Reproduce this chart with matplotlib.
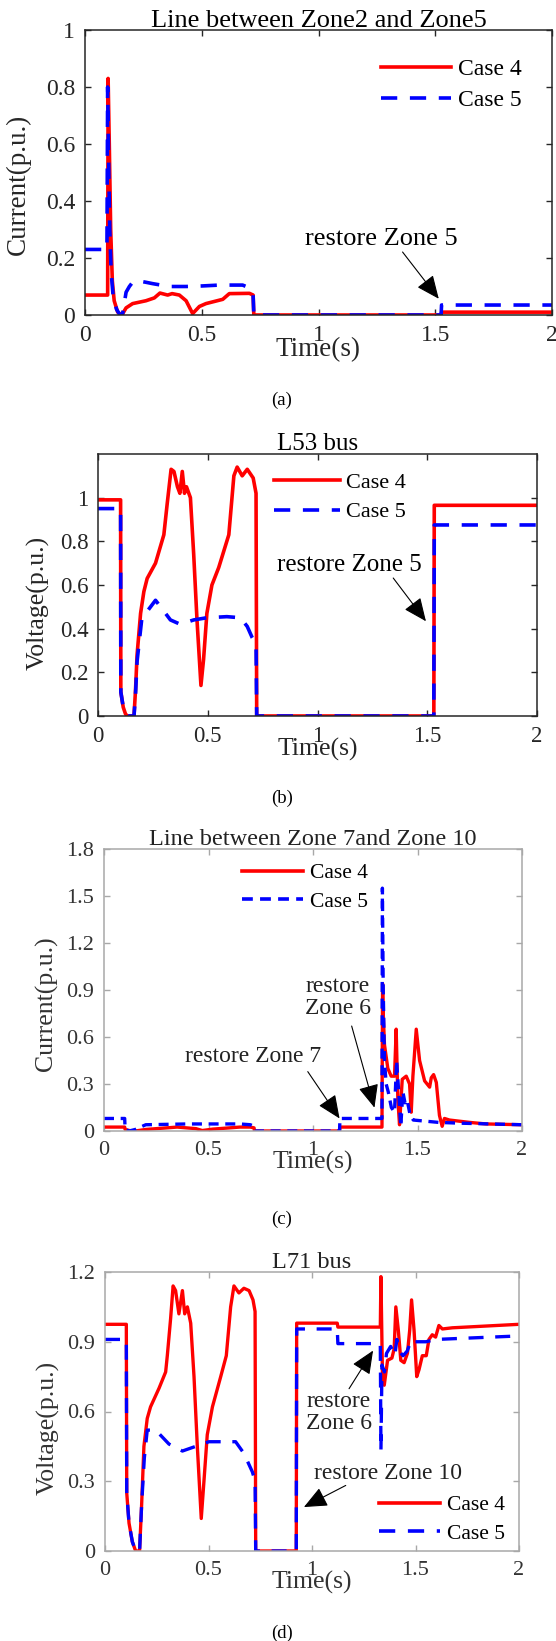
import matplotlib
matplotlib.use("Agg")
import matplotlib.pyplot as plt
from matplotlib.lines import Line2D

plt.rcParams['font.family'] = ['Liberation Serif', 'DejaVu Serif']

# ---------------- data ----------------
# (a) line between Zone2 and Zone5, current
t_a4 = [0, 0.097, 0.099, 0.104, 0.110, 0.117, 0.125, 0.140, 0.158, 0.176, 0.204, 0.261, 0.297,
        0.321, 0.354, 0.373, 0.404, 0.433, 0.461, 0.490, 0.518, 0.590, 0.618, 0.704, 0.720,
        0.723, 1.525, 1.527, 2.0]
i_a4 = [0.07, 0.07, 0.83, 0.60, 0.30, 0.12, 0.05, 0.01, 0.0, 0.025, 0.04, 0.05, 0.06,
        0.077, 0.07, 0.075, 0.07, 0.05, 0.005, 0.03, 0.04, 0.055, 0.075, 0.076, 0.07,
        0.0, 0.0, 0.01, 0.01]
t_a5 = [0, 0.094, 0.097, 0.101, 0.106, 0.112, 0.120, 0.135, 0.150, 0.160, 0.168, 0.176, 0.190,
        0.204, 0.226, 0.260, 0.290, 0.361, 0.433, 0.504, 0.575, 0.675, 0.705, 0.720, 0.723,
        1.525, 1.527, 2.0]
i_a5 = [0.23, 0.23, 0.80, 0.55, 0.30, 0.15, 0.07, 0.02, 0.0, 0.0, 0.04, 0.08, 0.10,
        0.115, 0.12, 0.115, 0.11, 0.10, 0.10, 0.102, 0.105, 0.105, 0.095, 0.07, 0.0,
        0.0, 0.035, 0.035]

# (b) L53 bus voltage
t_b4 = [0, 0.103, 0.104, 0.115, 0.125, 0.133, 0.164, 0.171, 0.178, 0.194, 0.209, 0.224, 0.262,
        0.300, 0.315, 0.333, 0.346, 0.362, 0.373, 0.384, 0.394, 0.403, 0.421, 0.436, 0.451,
        0.469, 0.481, 0.496, 0.519, 0.550, 0.596, 0.619, 0.634, 0.657, 0.680, 0.707, 0.720,
        0.723, 1.530, 1.532, 2.0]
v_b4 = [0.99, 0.99, 0.11, 0.04, 0.01, 0.0, 0.0, 0.12, 0.28, 0.47, 0.57, 0.63, 0.70,
        0.83, 0.97, 1.13, 1.12, 1.05, 1.02, 1.12, 1.02, 1.05, 1.0, 0.74, 0.44,
        0.14, 0.26, 0.47, 0.60, 0.68, 0.83, 1.10, 1.14, 1.10, 1.13, 1.09, 1.02,
        0.0, 0.0, 0.965, 0.965]
t_b5 = [0, 0.103, 0.104, 0.115, 0.125, 0.138, 0.164, 0.171, 0.178, 0.200, 0.217, 0.262, 0.285,
        0.330, 0.375, 0.436, 0.496, 0.587, 0.649, 0.680, 0.702, 0.720, 0.723, 1.530, 1.532, 2.0]
v_b5 = [0.95, 0.95, 0.11, 0.04, 0.01, 0.0, 0.0, 0.10, 0.25, 0.45, 0.47, 0.53, 0.50,
        0.44, 0.42, 0.44, 0.45, 0.455, 0.45, 0.41, 0.36, 0.33, 0.0, 0.0, 0.875, 0.875]

# (c) line between Zone 7 and Zone 10, current
t_c4 = [0, 0.099, 0.101, 0.13, 0.15, 0.20, 0.35, 0.44, 0.47, 0.52, 0.65, 0.70, 0.718, 0.720,
        1.127, 1.129, 1.330, 1.333, 1.336, 1.342, 1.358, 1.374, 1.390, 1.398, 1.406, 1.414,
        1.427, 1.446, 1.462, 1.470, 1.478, 1.494, 1.510, 1.534, 1.558, 1.566, 1.577, 1.590,
        1.605, 1.618, 1.629, 1.653, 1.749, 1.828, 2.0]
i_c4 = [0.025, 0.025, 0.01, 0.0, 0.0, 0.01, 0.025, 0.015, 0.003, 0.012, 0.025, 0.025, 0.02, 0.0,
        0.0, 0.025, 0.025, 0.94, 0.75, 0.55, 0.40, 0.35, 0.35, 0.65, 0.20, 0.04,
        0.33, 0.35, 0.30, 0.12, 0.35, 0.65, 0.45, 0.32, 0.28, 0.34, 0.36, 0.31,
        0.10, 0.03, 0.08, 0.07, 0.055, 0.045, 0.04]
t_c5 = [0, 0.099, 0.101, 0.12, 0.15, 0.20, 0.40, 0.65, 0.70, 0.718, 0.720, 1.127, 1.129, 1.330,
        1.332, 1.336, 1.342, 1.350, 1.360, 1.375, 1.390, 1.400, 1.410, 1.420, 1.430, 1.440,
        1.450, 1.465, 1.480, 1.520, 1.560, 1.600, 1.700, 2.0]
i_c5 = [0.08, 0.08, 0.01, 0.0, 0.01, 0.04, 0.045, 0.045, 0.04, 0.03, 0.0, 0.0, 0.08, 0.08,
        1.55, 0.90, 0.45, 0.30, 0.25, 0.15, 0.12, 0.45, 0.25, 0.03, 0.25, 0.18,
        0.20, 0.10, 0.07, 0.065, 0.06, 0.055, 0.05, 0.04]

# (d) L71 bus voltage
t_d4 = [0, 0.103, 0.105, 0.116, 0.132, 0.148, 0.167, 0.177, 0.188, 0.204, 0.220, 0.261, 0.293,
        0.301, 0.317, 0.329, 0.341, 0.357, 0.374, 0.385, 0.398, 0.414, 0.430, 0.446, 0.465,
        0.478, 0.494, 0.519, 0.559, 0.586, 0.607, 0.623, 0.647, 0.671, 0.696, 0.715, 0.725,
        0.728, 0.924, 0.926, 1.122, 1.125, 1.330, 1.333, 1.341, 1.349, 1.365, 1.386, 1.397,
        1.405, 1.417, 1.429, 1.445, 1.461, 1.472, 1.481, 1.493, 1.506, 1.517, 1.533, 1.552,
        1.565, 1.581, 1.597, 1.613, 1.630, 1.678, 2.0]
v_d4 = [0.975, 0.975, 0.25, 0.12, 0.04, 0.0, 0.0, 0.20, 0.45, 0.57, 0.62, 0.70, 0.77,
        0.84, 1.0, 1.14, 1.12, 1.02, 1.12, 1.02, 1.05, 0.98, 0.75, 0.45, 0.14,
        0.30, 0.50, 0.62, 0.75, 0.84, 1.05, 1.14, 1.11, 1.13, 1.12, 1.08, 1.03,
        0.0, 0.0, 0.98, 0.98, 0.963, 0.963, 1.18, 0.72, 0.713, 0.82, 0.83, 0.87,
        1.05, 0.95, 0.82, 0.81, 0.85, 0.95, 1.08, 0.95, 0.75, 0.78, 0.84, 0.84,
        0.91, 0.93, 0.92, 0.97, 0.955, 0.96, 0.975]
t_d5 = [0, 0.103, 0.105, 0.116, 0.132, 0.148, 0.167, 0.177, 0.190, 0.204, 0.245, 0.309, 0.374,
        0.438, 0.502, 0.631, 0.671, 0.712, 0.725, 0.728, 0.924, 0.926, 1.122, 1.125, 1.330,
        1.333, 1.338, 1.350, 1.360, 1.380, 1.400, 1.410, 1.420, 1.440, 1.460, 1.480, 1.500,
        1.550, 1.600, 2.0]
v_d5 = [0.91, 0.91, 0.25, 0.12, 0.04, 0.0, 0.0, 0.20, 0.40, 0.52, 0.52, 0.46, 0.43,
        0.45, 0.47, 0.47, 0.42, 0.34, 0.30, 0.0, 0.0, 0.955, 0.955, 0.892, 0.892,
        0.43, 0.80, 0.77, 0.85, 0.88, 0.84, 0.91, 0.86, 0.84, 0.86, 0.91, 0.90,
        0.90, 0.91, 0.925]

# ---------------- figure ----------------
W, H = 556, 1641
fig = plt.figure(figsize=(W / 100, H / 100), dpi=100)


def make_axes(left, right, top, bottom):
    return fig.add_axes([left / W, 1 - bottom / H, (right - left) / W, (bottom - top) / H])


def style(ax, fcol, tcol, fs):
    for s in ax.spines.values():
        s.set_color(fcol)
        s.set_linewidth(1.1)
    ax.tick_params(direction='in', length=4, width=1, color=fcol, labelcolor=tcol,
                   labelsize=fs, top=True, right=True, pad=7)
    ax.set_xlim(0, 2)
    ax.set_xticks([0, 0.5, 1, 1.5, 2])
    ax.set_xticklabels(['0', '0.5', '1', '1.5', '2'])


def arrow(ax, tip, tail):
    ax.annotate('', xy=tip, xytext=tail,
                arrowprops=dict(arrowstyle='-|>,head_length=0.8,head_width=0.35',
                                color='k', lw=0.8, mutation_scale=18, shrinkA=0, shrinkB=0))


def legend(ax, x, y, fs, hl, dash):
    h = [Line2D([], [], color='red', lw=2.6),
         Line2D([], [], color='blue', lw=2.6, ls=(0, dash))]
    ax.legend(h, ['Case 4', 'Case 5'], loc='upper left', bbox_to_anchor=(x, y),
              frameon=False, fontsize=fs, handlelength=hl, handletextpad=0.3,
              labelspacing=0.4, borderaxespad=0, borderpad=0)


dark = '#262626'
grey = '#a8a8a8'
lab_dash = (4.5, 3.5)

# (a)
ax = make_axes(85, 552, 30, 315)
ax.plot(t_a4, i_a4, color='red', lw=2.6)
ax.plot(t_a5, i_a5, color='blue', lw=2.6, ls=(0, lab_dash))
style(ax, dark, dark, 17)
ax.set_ylim(0, 1)
ax.set_yticks([0, 0.2, 0.4, 0.6, 0.8, 1])
ax.set_yticklabels(['0', '0.2', '0.4', '0.6', '0.8', '1'])
ax.set_title('Line between Zone2 and Zone5', fontsize=19, pad=2, color='k')
ax.set_xlabel('Time(s)', fontsize=19.5, labelpad=-6, color=dark)
ax.set_ylabel('Current(p.u.)', fontsize=19.5, color=dark)
ax.yaxis.set_label_coords(-0.115, 0.46)
ax.text(1.268, 0.268, 'restore Zone 5', fontsize=19, ha='center', va='center')
arrow(ax, (1.515, 0.057), (1.36, 0.221))
legend(ax, 0.634, 0.9, 17, 2.95, lab_dash)

# (b)
ax = make_axes(98, 537, 454, 716)
ax.plot(t_b4, v_b4, color='red', lw=2.6)
ax.plot(t_b5, v_b5, color='blue', lw=2.6, ls=(0, lab_dash))
style(ax, dark, dark, 16.5)
ax.set_ylim(0, 1.2)
ax.set_yticks([0, 0.2, 0.4, 0.6, 0.8, 1])
ax.set_yticklabels(['0', '0.2', '0.4', '0.6', '0.8', '1'])
ax.set_title('L53 bus', fontsize=18, pad=3, color='k')
ax.set_xlabel('Time(s)', fontsize=18.5, labelpad=-6, color=dark)
ax.set_ylabel('Voltage(p.u.)', fontsize=18.5, color=dark)
ax.yaxis.set_label_coords(-0.11, 0.43)
ax.text(1.145, 0.69, 'restore Zone 5', fontsize=18, ha='center', va='center')
arrow(ax, (1.494, 0.434), (1.345, 0.632))
legend(ax, 0.401, 0.93, 16, 2.95, lab_dash)

# (c)
ax = make_axes(104, 522, 849, 1131)
ax.plot(t_c4, i_c4, color='red', lw=2.4)
ax.plot(t_c5, i_c5, color='blue', lw=2.4, ls=(0, (3, 2)))
style(ax, grey, '#333333', 16)
ax.set_ylim(0, 1.8)
ax.set_yticks([0, 0.3, 0.6, 0.9, 1.2, 1.5, 1.8])
ax.set_yticklabels(['0', '0.3', '0.6', '0.9', '1.2', '1.5', '1.8'])
ax.set_title('Line between Zone 7and Zone 10', fontsize=17.5, pad=3, color='#222222')
ax.set_xlabel('Time(s)', fontsize=18.5, labelpad=-6, color='#333333')
ax.set_ylabel('Current(p.u.)', fontsize=18.5, color='#333333')
ax.yaxis.set_label_coords(-0.11, 0.45)
ax.text(0.712, 0.476, 'restore Zone 7', fontsize=17, ha='center', va='center', color='#222222')
ax.text(1.119, 0.85, 'restore\nZone 6', fontsize=17, ha='center', va='center',
        color='#222222', linespacing=1.05)
arrow(ax, (1.127, 0.08), (0.975, 0.379))
arrow(ax, (1.294, 0.149), (1.185, 0.67))
legend(ax, 0.33, 0.95, 15.5, 2.85, (3, 2))

# (d)
ax = make_axes(105, 519, 1272, 1551)
ax.plot(t_d4, v_d4, color='red', lw=2.4)
ax.plot(t_d5, v_d5, color='blue', lw=2.4, ls=(0, lab_dash))
style(ax, grey, '#333333', 16)
ax.set_ylim(0, 1.2)
ax.set_yticks([0, 0.3, 0.6, 0.9, 1.2])
ax.set_yticklabels(['0', '0.3', '0.6', '0.9', '1.2'])
ax.set_title('L71 bus', fontsize=17.5, pad=3, color='#222222')
ax.set_xlabel('Time(s)', fontsize=18.5, labelpad=-6, color='#333333')
ax.set_ylabel('Voltage(p.u.)', fontsize=18.5, color='#333333')
ax.yaxis.set_label_coords(-0.11, 0.44)
ax.text(1.13, 0.597, 'restore\nZone 6', fontsize=17, ha='center', va='center',
        color='#222222', linespacing=1.05)
ax.text(1.369, 0.332, 'restore Zone 10', fontsize=17, ha='center', va='center', color='#222222')
arrow(ax, (1.295, 0.862), (1.179, 0.698))
arrow(ax, (0.961, 0.189), (1.163, 0.282))
legend(ax, 0.662, 0.2, 15.5, 2.85, lab_dash)

# captions
for lab, y in [('(a)', 400), ('(b)', 798), ('(c)', 1219), ('(d)', 1633)]:
    fig.text(282 / W, 1 - y / H, lab, fontsize=13.5, ha='center', va='center')

fig.savefig('out.png', dpi=100)
